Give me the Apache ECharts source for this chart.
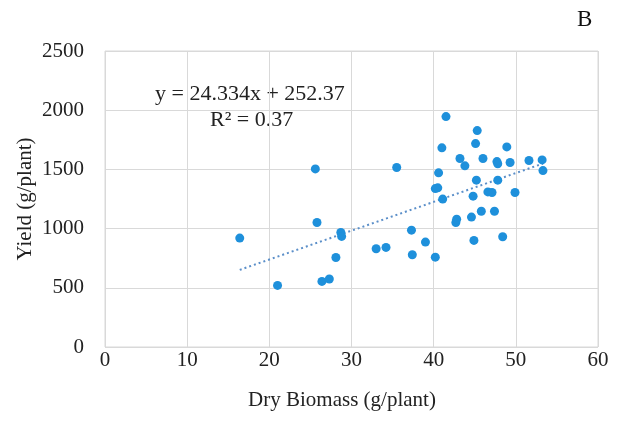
<!DOCTYPE html>
<html>
<head>
<meta charset="utf-8">
<script src="https://cdn.jsdelivr.net/npm/echarts@6/dist/echarts.min.js"></script>
<style>
html,body{margin:0;padding:0;background:#fff;}
#chart{width:621px;height:425px;}
</style>
</head>
<body>
<div id="chart"></div>
<script>
// Dry biomass (g/plant) values
var biomass = [16.4, 21.0, 25.6, 25.8, 26.4, 27.3, 28.1, 28.7, 28.8, 33.0, 34.2, 35.5, 37.3, 37.4, 39.0, 40.2, 40.2, 40.5, 40.6, 41.0, 41.1, 41.5, 42.7, 42.8, 43.2, 43.8, 44.6, 44.8, 44.9, 45.1, 45.2, 45.3, 45.8, 46.0, 46.6, 47.1, 47.4, 47.7, 47.8, 47.8, 48.4, 48.9, 49.3, 49.9, 51.6, 53.2, 53.3];
// Yield (g/plant) values
var yieldVals = [920, 520, 1504, 1052, 554, 574, 756, 967, 934, 830, 841, 1516, 987, 779, 886, 759, 1338, 1344, 1471, 1682, 1249, 1946, 1052, 1080, 1592, 1530, 1097, 1274, 900, 1718, 1409, 1828, 1147, 1592, 1310, 1305, 1147, 1566, 1547, 1409, 931, 1690, 1558, 1305, 1575, 1580, 1490];
// Trendline coefficients shown on the chart
var slope = 24.334;
var intercept = 252.37;
var equationText = 'y = 24.334x + 252.37';
var r2Text = 'R² = 0.37';
var panelLabel = 'B';
var xTitle = 'Dry Biomass (g/plant)';
var yTitle = 'Yield (g/plant)';

var points = biomass.map(function(x, i){ return [x, yieldVals[i]]; });
var xMin = Math.min.apply(null, biomass), xMax = Math.max.apply(null, biomass);
var trend = [[xMin, slope*xMin+intercept], [xMax, slope*xMax+intercept]];

var font = 'Liberation Serif';
var chart = echarts.init(document.getElementById('chart'));
chart.setOption({
  animation: false,
  backgroundColor: '#fff',
  grid: {left: 105, right: 23, top: 51, bottom: 78, show: true, borderColor: '#d9d9d9', borderWidth: 1},
  xAxis: {
    type: 'value', min: 0, max: 60, interval: 10,
    axisLine: {show: false}, axisTick: {show: false},
    splitLine: {show: true, lineStyle: {color: '#d9d9d9', width: 1}},
    axisLabel: {fontFamily: font, fontSize: 21, color: '#222', margin: 3}
  },
  yAxis: {
    type: 'value', min: 0, max: 2500, interval: 500,
    axisLine: {show: false}, axisTick: {show: false},
    splitLine: {show: true, lineStyle: {color: '#d9d9d9', width: 1}},
    axisLabel: {fontFamily: font, fontSize: 21, color: '#222', margin: 21,
      formatter: function(v){ return String(v); }}
  },
  series: [
    {
      type: 'line', data: trend, symbol: 'none', silent: true,
      lineStyle: {color: '#5b8fc9', width: 2, type: [2, 3]}, z: 1
    },
    {
      type: 'scatter', data: points, symbolSize: 9,
      itemStyle: {color: '#1e90db', opacity: 1}, z: 2
    }
  ],
  graphic: [
    {type: 'text', left: 155, top: 83, style: {text: equationText, font: '22px "Liberation Serif"', fill: '#222'}},
    {type: 'text', left: 210, top: 109, style: {text: r2Text, font: '22px "Liberation Serif"', fill: '#222'}},
    {type: 'text', left: 577, top: 8, style: {text: panelLabel, font: '23px "Liberation Serif"', fill: '#111'}},
    {type: 'text', x: 342, y: 400, style: {text: xTitle, font: '21px "Liberation Serif"', fill: '#222', align: 'center', verticalAlign: 'middle'}},
    {type: 'text', x: 25, y: 199, rotation: Math.PI/2, style: {text: yTitle, font: '21px "Liberation Serif"', fill: '#222', align: 'center', verticalAlign: 'middle'}}
  ]
});
</script>
</body>
</html>
